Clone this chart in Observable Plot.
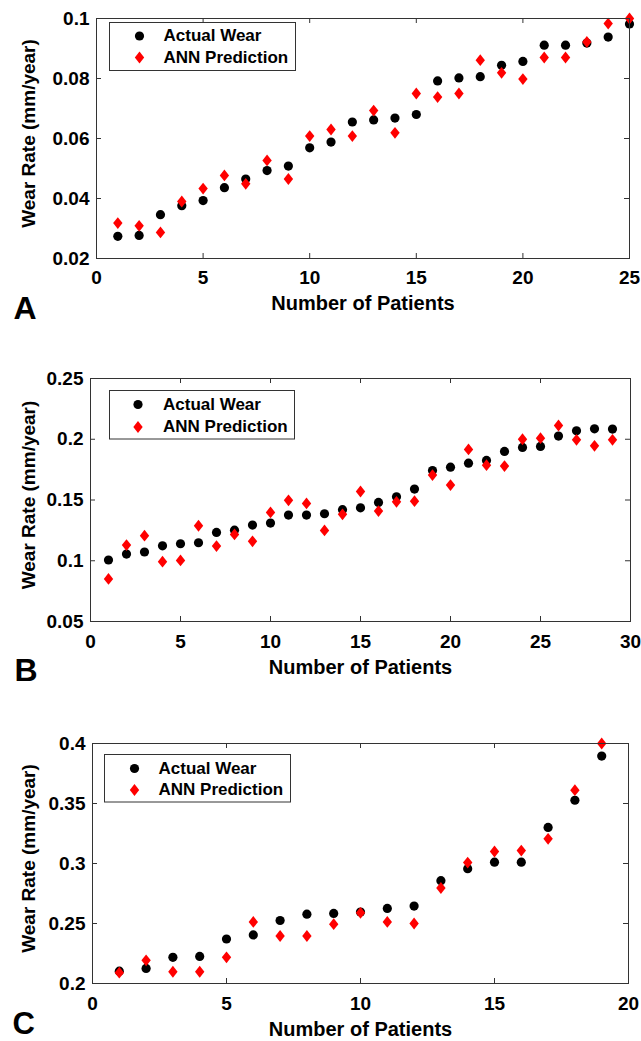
<!DOCTYPE html>
<html>
<head>
<meta charset="utf-8">
<script src="https://cdn.jsdelivr.net/npm/d3@7"></script>
<script src="https://cdn.jsdelivr.net/npm/@observablehq/plot@0.6"></script>
<style>
  body { margin: 0; background: #fff; }
  #chart svg { display: block; }
</style>
</head>
<body>
<div id="chart"></div>
<script>
// ---------- data ----------
const patientsA = [1,2,3,4,5,6,7,8,9,10,11,12,13,14,15,16,17,18,19,20,21,22,23,24,25];
const actualA = [0.0274,0.0277,0.0346,0.0376,0.0393,0.0436,0.0465,0.0493,0.0508,0.0569,0.0588,0.0655,0.0662,0.0668,0.0680,0.0792,0.0802,0.0806,0.0844,0.0857,0.0911,0.0911,0.0918,0.0938,0.0982];
const annA    = [0.0318,0.0309,0.0287,0.0390,0.0433,0.0477,0.0449,0.0527,0.0465,0.0608,0.0630,0.0608,0.0693,0.0619,0.0750,0.0738,0.0750,0.0861,0.0819,0.0798,0.0870,0.0870,0.0922,0.0983,0.1000];

const patientsB = [1,2,3,4,5,6,7,8,9,10,11,12,13,14,15,16,17,18,19,20,21,22,23,24,25,26,27,28,29];
const actualB = [0.1006,0.1055,0.1072,0.1123,0.1140,0.1148,0.1233,0.1252,0.1294,0.1310,0.1376,0.1376,0.1387,0.1420,0.1436,0.1480,0.1526,0.1590,0.1743,0.1770,0.1803,0.1826,0.1900,0.1933,0.1941,0.2026,0.2069,0.2086,0.2084];
const annB    = [0.0850,0.1129,0.1206,0.0992,0.1003,0.1288,0.1121,0.1217,0.1160,0.1398,0.1497,0.1472,0.1250,0.1382,0.1570,0.1409,0.1485,0.1490,0.1705,0.1623,0.1916,0.1787,0.1779,0.2000,0.2009,0.2113,0.1995,0.1946,0.1995];

const patientsC = [1,2,3,4,5,6,7,8,9,10,11,12,13,14,15,16,17,18,19];
const actualC = [0.2103,0.2126,0.2218,0.2226,0.2371,0.2405,0.2525,0.2578,0.2584,0.2595,0.2626,0.2645,0.2857,0.2957,0.3011,0.3011,0.3301,0.3527,0.3895];
const annC    = [0.2090,0.2193,0.2098,0.2098,0.2218,0.2513,0.2396,0.2396,0.2494,0.2589,0.2513,0.2500,0.2796,0.3008,0.3100,0.3108,0.3206,0.3611,0.4000];

const xTicksA = [0,5,10,15,20,25];
const xTicksB = [0,5,10,15,20,25,30];
const xTicksC = [0,5,10,15,20];
const yTicksA = [0.02,0.04,0.06,0.08,0.1];
const yTicksB = [0.05,0.1,0.15,0.2,0.25];
const yTicksC = [0.2,0.25,0.3,0.35,0.4];
const yTickLabelsA = ["0.02","0.04","0.06","0.08","0.1"];
const yTickLabelsB = ["0.05","0.1","0.15","0.2","0.25"];
const yTickLabelsC = ["0.2","0.25","0.3","0.35","0.4"];

const seriesNames = ["Actual Wear","ANN Prediction"];
const xTitle = "Number of Patients";
const yTitle = "Wear Rate (mm/year)";
const panelLetters = ["A","B","C"];

// ---------- drawing ----------
const FONT = "'Liberation Sans', Arial, Helvetica, sans-serif";
const AXIS = "#333";
const diamond = {
  draw(ctx) {
    const w = 4.7, h = 5.9;
    ctx.moveTo(0, -h); ctx.lineTo(w, 0); ctx.lineTo(0, h); ctx.lineTo(-w, 0); ctx.closePath();
  }
};

function panel(cfg) {
  const {patients, actual, ann, xTicks, yTicks, yLabels, xDomain, yDomain,
         height, mt, mb, ml, mr, letter, lg, letterPos, xLabelDy, tickPadX} = cfg;
  const width = 641;
  const iw = width - ml - mr, ih = height - mt - mb;
  const rows = patients.map((p, i) => ({p, actual: actual[i], ann: ann[i]}));
  const tick = 5;
  return Plot.plot({
    width, height,
    marginTop: mt, marginBottom: mb, marginLeft: ml, marginRight: mr,
    style: {fontFamily: FONT, background: "#fff", color: "#000"},
    x: {domain: xDomain},
    y: {domain: yDomain},
    marks: [
      // inward ticks on all four sides
      Plot.ruleX(xTicks, {x: d => d, insetTop: ih - tick, stroke: AXIS}),
      Plot.ruleX(xTicks, {x: d => d, insetBottom: ih - tick, stroke: AXIS}),
      Plot.ruleY(yTicks, {y: d => d, insetRight: iw - tick, stroke: AXIS}),
      Plot.ruleY(yTicks, {y: d => d, insetLeft: iw - tick, stroke: AXIS}),
      Plot.axisX({ticks: xTicks, tickSize: 0, tickPadding: tickPadX, label: null,
        tickFormat: d => String(d), fontSize: 19, fontWeight: "bold"}),
      Plot.axisY({ticks: yTicks, tickSize: 0, tickPadding: 7, label: null,
        tickFormat: (d, i) => yLabels[yTicks.indexOf(d)], fontSize: 19, fontWeight: "bold"}),
      // data
      Plot.dot(rows, {x: "p", y: "actual", r: 4.6, fill: "#000", stroke: "none"}),
      Plot.dot(rows, {x: "p", y: "ann", r: 5, symbol: diamond, fill: "#ff0000", stroke: "none"}),
      Plot.frame({stroke: AXIS, strokeWidth: 1}),
      // legend
      Plot.frame({fill: "#fff", stroke: AXIS, strokeWidth: 1,
        insetLeft: lg.l, insetTop: lg.t, insetRight: iw - lg.r, insetBottom: ih - lg.b}),
      Plot.dot([0], {frameAnchor: "top-left", dx: lg.mx, dy: lg.y1, r: 4.6, fill: "#000", stroke: "none"}),
      Plot.dot([0], {frameAnchor: "top-left", dx: lg.mx, dy: lg.y2, r: 5, symbol: diamond, fill: "#ff0000", stroke: "none"}),
      Plot.text([seriesNames[0]], {text: d => d, frameAnchor: "top-left", dx: lg.tx, dy: lg.y1,
        textAnchor: "start", lineAnchor: "middle", fontSize: 17, fontWeight: "bold", fill: "#000"}),
      Plot.text([seriesNames[1]], {text: d => d, frameAnchor: "top-left", dx: lg.tx, dy: lg.y2,
        textAnchor: "start", lineAnchor: "middle", fontSize: 17, fontWeight: "bold", fill: "#000"}),
      // titles
      Plot.text([xTitle], {text: d => d, frameAnchor: "bottom", dy: xLabelDy,
        textAnchor: "middle", lineAnchor: "middle", fontSize: 20, fontWeight: "bold", fill: "#000"}),
      Plot.text([yTitle], {text: d => d, frameAnchor: "left", rotate: -90, dx: 28 - ml, dy: -5,
        textAnchor: "middle", lineAnchor: "middle", fontSize: 19, fontWeight: "bold", fill: "#000"}),
      Plot.text([letter], {text: d => d, frameAnchor: "bottom-left", dx: letterPos.dx, dy: letterPos.dy,
        textAnchor: "start", lineAnchor: "middle", fontSize: letterPos.fs, fontWeight: "bold", fill: "#000"})
    ]
  });
}

const root = document.getElementById("chart");
root.appendChild(panel({
  patients: patientsA, actual: actualA, ann: annA, xTicks: xTicksA, yTicks: yTicksA, yLabels: yTickLabelsA,
  xDomain: [0, 25], yDomain: [0.02, 0.1], height: 350, mt: 18, mb: 92, ml: 96, mr: 12,
  letter: panelLetters[0], letterPos: {dx: -83, dy: 50, fs: 32}, xLabelDy: 45, tickPadX: 12,
  lg: {l: 13, t: 4, r: 199, b: 52, mx: 43, y1: 17.5, y2: 39, tx: 67}
}));
root.appendChild(panel({
  patients: patientsB, actual: actualB, ann: annB, xTicks: xTicksB, yTicks: yTicksB, yLabels: yTickLabelsB,
  xDomain: [0, 30], yDomain: [0.05, 0.25], height: 360, mt: 28, mb: 89, ml: 90, mr: 11,
  letter: panelLetters[1], letterPos: {dx: -76, dy: 49, fs: 32}, xLabelDy: 46, tickPadX: 13,
  lg: {l: 19, t: 12, r: 204, b: 60.5, mx: 47.5, y1: 26, y2: 48.5, tx: 72.5}
}));
root.appendChild(panel({
  patients: patientsC, actual: actualC, ann: annC, xTicks: xTicksC, yTicks: yTicksC, yLabels: yTickLabelsC,
  xDomain: [0, 20], yDomain: [0.2, 0.4], height: 331, mt: 33, mb: 58, ml: 92, mr: 13,
  letter: panelLetters[2], letterPos: {dx: -80, dy: 41, fs: 31}, xLabelDy: 46, tickPadX: 13,
  lg: {l: 12, t: 11, r: 198, b: 58.5, mx: 42, y1: 25, y2: 46.5, tx: 66}
}));
</script>
</body>
</html>
